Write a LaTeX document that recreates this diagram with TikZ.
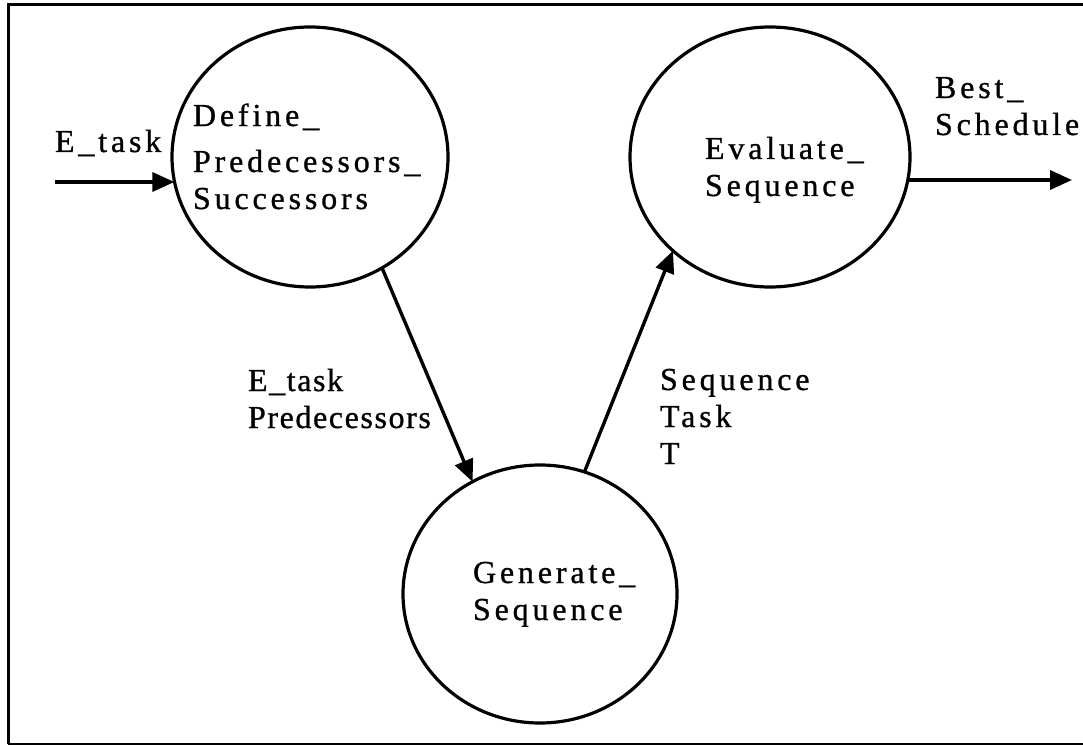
\documentclass[tikz,border=0pt]{standalone}
\usepackage{fontspec}
\setmainfont{Liberation Serif}[LetterSpace=12,FakeBold=0.9]
\usetikzlibrary{shapes.geometric,arrows.meta}
% left-aligned lines with a fixed baseline distance; baseline at the last line
\newcommand{\txtlines}[1]{\begin{tabular}[b]{@{}l@{}}#1\end{tabular}}
\begin{document}
\begin{tikzpicture}[x=1pt,y=-1pt,
  proc/.style={ellipse,draw,line width=3.2pt,inner sep=0pt,outer sep=0pt,
    minimum width=276pt,minimum height=260pt},
  txt/.style={inner sep=0pt,outer sep=0pt,anchor=base west,
    font=\fontsize{32}{37}\selectfont},
  tight/.style={font=\fontsize{32}{37}\selectfont\addfontfeatures{LetterSpace=5}},
  flow/.style={line width=3.4pt,-{Triangle[length=22pt,width=19pt]}},
  frame/.style={line width=3pt}]
\useasboundingbox (0,0) rectangle (1083,746);

% outer frame
\draw[frame] (1083,5) -- (8,5) -- (8,744);
\draw[line width=1.5pt] (8,744) -- (1083,744);

% processes
\node[proc] (def) at (310,157) {};
\node[proc,minimum width=280pt] (eval) at (770,157) {};
\node[proc,minimum width=274pt,minimum height=258pt] (gen) at (540,594) {};

% process names (anchored at the baseline of the last line)
\node[txt] (defT) at (193,209) {\txtlines{Define\_\\[9pt]Predecessors\_\\Successors}};
\node[txt] (evalT) at (705,196) {\txtlines{Evaluate\_\\Sequence}};
\node[txt] (genT) at (473,620) {\txtlines{Generate\_\\Sequence}};

% flows
\coordinate (src) at (55,182);
\coordinate (snk) at (1072,180);
\draw[flow] (src) -- (src -| def.170);
\draw[flow] (eval.10 |- snk) -- (snk);
\draw[flow] (def.-57.5) -- (gen.121.5);
\draw[flow] (gen.70) -- (eval.224.7);

% flow labels
\node[txt] (inL) at (55,152) {E\_task};
\node[txt] (outL) at (935,135) {\txtlines{Best\_\\Schedule}};
\node[txt,tight] (dgL) at (248,428) {\txtlines{E\_task\\Predecessors}};
\node[txt] (geL) at (660,464) {\txtlines{Sequence\\Task\\T}};
\end{tikzpicture}
\end{document}
